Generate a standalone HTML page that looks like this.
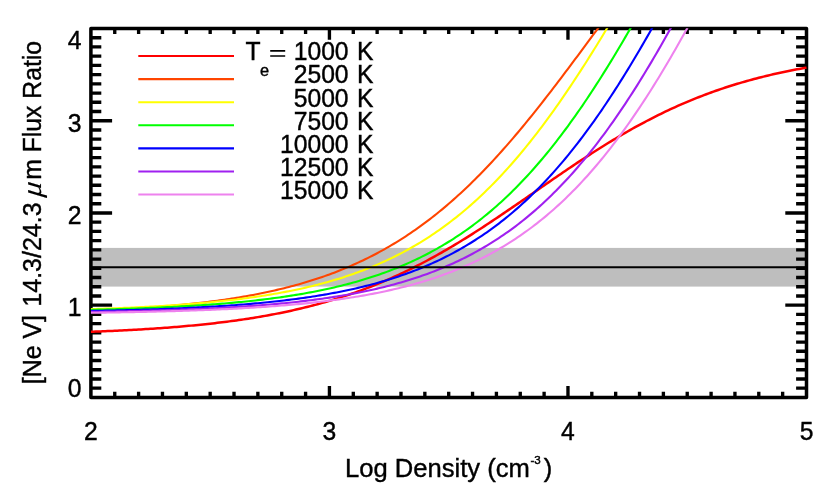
<!DOCTYPE html>
<html><head><meta charset="utf-8"><title>[Ne V] flux ratio</title>
<style>
html,body{margin:0;padding:0;background:#fff;}
body{width:830px;height:498px;overflow:hidden;font-family:"Liberation Sans",sans-serif;}
svg{display:block;will-change:transform;}
text{font-family:"Liberation Sans",sans-serif;fill:#000;stroke:#000;stroke-width:0.4px;}
</style></head><body>
<svg width="830" height="498" viewBox="0 0 830 498">
<rect x="0" y="0" width="830" height="498" fill="#fff"/>
<defs><clipPath id="c"><rect x="90.50" y="28.30" width="717.10" height="370.90"/></clipPath></defs>
<rect x="90.90" y="247.90" width="715.60" height="38.69" fill="#bebebe"/>
<rect x="90.90" y="28.50" width="715.60" height="368.90" fill="none" stroke="#000" stroke-width="3.5" stroke-linejoin="round"/>
<path d="M114.75 397.40v-5.55M114.75 28.50v5.55M138.61 397.40v-5.55M138.61 28.50v5.55M162.46 397.40v-5.55M162.46 28.50v5.55M186.31 397.40v-5.55M186.31 28.50v5.55M210.17 397.40v-5.55M210.17 28.50v5.55M234.02 397.40v-5.55M234.02 28.50v5.55M257.87 397.40v-5.55M257.87 28.50v5.55M281.73 397.40v-5.55M281.73 28.50v5.55M305.58 397.40v-5.55M305.58 28.50v5.55M329.43 397.40v-11.3M329.43 28.50v11.3M353.29 397.40v-5.55M353.29 28.50v5.55M377.14 397.40v-5.55M377.14 28.50v5.55M400.99 397.40v-5.55M400.99 28.50v5.55M424.85 397.40v-5.55M424.85 28.50v5.55M448.70 397.40v-5.55M448.70 28.50v5.55M472.55 397.40v-5.55M472.55 28.50v5.55M496.41 397.40v-5.55M496.41 28.50v5.55M520.26 397.40v-5.55M520.26 28.50v5.55M544.11 397.40v-5.55M544.11 28.50v5.55M567.97 397.40v-11.3M567.97 28.50v11.3M591.82 397.40v-5.55M591.82 28.50v5.55M615.67 397.40v-5.55M615.67 28.50v5.55M639.53 397.40v-5.55M639.53 28.50v5.55M663.38 397.40v-5.55M663.38 28.50v5.55M687.23 397.40v-5.55M687.23 28.50v5.55M711.09 397.40v-5.55M711.09 28.50v5.55M734.94 397.40v-5.55M734.94 28.50v5.55M758.79 397.40v-5.55M758.79 28.50v5.55M782.65 397.40v-5.55M782.65 28.50v5.55M90.90 388.18h10.4M806.50 388.18h-10.4M90.90 378.95h10.4M806.50 378.95h-10.4M90.90 369.73h10.4M806.50 369.73h-10.4M90.90 360.51h10.4M806.50 360.51h-10.4M90.90 351.29h10.4M806.50 351.29h-10.4M90.90 342.06h10.4M806.50 342.06h-10.4M90.90 332.84h10.4M806.50 332.84h-10.4M90.90 323.62h10.4M806.50 323.62h-10.4M90.90 314.40h10.4M806.50 314.40h-10.4M90.90 305.17h21.2M806.50 305.17h-21.2M90.90 295.95h10.4M806.50 295.95h-10.4M90.90 286.73h10.4M806.50 286.73h-10.4M90.90 277.51h10.4M806.50 277.51h-10.4M90.90 268.28h10.4M806.50 268.28h-10.4M90.90 259.06h10.4M806.50 259.06h-10.4M90.90 249.84h10.4M806.50 249.84h-10.4M90.90 240.62h10.4M806.50 240.62h-10.4M90.90 231.39h10.4M806.50 231.39h-10.4M90.90 222.17h10.4M806.50 222.17h-10.4M90.90 212.95h21.2M806.50 212.95h-21.2M90.90 203.73h10.4M806.50 203.73h-10.4M90.90 194.50h10.4M806.50 194.50h-10.4M90.90 185.28h10.4M806.50 185.28h-10.4M90.90 176.06h10.4M806.50 176.06h-10.4M90.90 166.84h10.4M806.50 166.84h-10.4M90.90 157.61h10.4M806.50 157.61h-10.4M90.90 148.39h10.4M806.50 148.39h-10.4M90.90 139.17h10.4M806.50 139.17h-10.4M90.90 129.95h10.4M806.50 129.95h-10.4M90.90 120.73h21.2M806.50 120.73h-21.2M90.90 111.50h10.4M806.50 111.50h-10.4M90.90 102.28h10.4M806.50 102.28h-10.4M90.90 93.06h10.4M806.50 93.06h-10.4M90.90 83.83h10.4M806.50 83.83h-10.4M90.90 74.61h10.4M806.50 74.61h-10.4M90.90 65.39h10.4M806.50 65.39h-10.4M90.90 56.17h10.4M806.50 56.17h-10.4M90.90 46.94h10.4M806.50 46.94h-10.4M90.90 37.72h10.4M806.50 37.72h-10.4" stroke="#000" stroke-width="3.35" fill="none"/>
<g clip-path="url(#c)" fill="none" stroke-linejoin="round">
<polyline points="90.90,331.78 93.29,331.69 95.67,331.60 98.06,331.51 100.44,331.41 102.83,331.31 105.21,331.21 107.60,331.11 109.98,331.00 112.37,330.90 114.75,330.79 117.14,330.67 119.52,330.56 121.91,330.44 124.29,330.32 126.68,330.20 129.07,330.07 131.45,329.95 133.84,329.81 136.22,329.68 138.61,329.54 140.99,329.40 143.38,329.26 145.76,329.11 148.15,328.96 150.53,328.81 152.92,328.66 155.30,328.50 157.69,328.33 160.07,328.17 162.46,327.99 164.85,327.82 167.23,327.64 169.62,327.46 172.00,327.27 174.39,327.08 176.77,326.89 179.16,326.69 181.54,326.49 183.93,326.28 186.31,326.07 188.70,325.85 191.08,325.63 193.47,325.41 195.85,325.17 198.24,324.94 200.63,324.70 203.01,324.45 205.40,324.20 207.78,323.94 210.17,323.68 212.55,323.41 214.94,323.14 217.32,322.86 219.71,322.58 222.09,322.29 224.48,321.99 226.86,321.68 229.25,321.37 231.63,321.06 234.02,320.73 236.41,320.40 238.79,320.07 241.18,319.72 243.56,319.37 245.95,319.02 248.33,318.65 250.72,318.28 253.10,317.90 255.49,317.51 257.87,317.11 260.26,316.71 262.64,316.30 265.03,315.88 267.41,315.45 269.80,315.01 272.19,314.56 274.57,314.11 276.96,313.64 279.34,313.17 281.73,312.69 284.11,312.20 286.50,311.69 288.88,311.18 291.27,310.66 293.65,310.13 296.04,309.59 298.42,309.04 300.81,308.48 303.19,307.90 305.58,307.32 307.97,306.73 310.35,306.12 312.74,305.50 315.12,304.88 317.51,304.24 319.89,303.59 322.28,302.92 324.66,302.25 327.05,301.56 329.43,300.86 331.82,300.15 334.20,299.43 336.59,298.69 338.97,297.94 341.36,297.18 343.75,296.41 346.13,295.62 348.52,294.82 350.90,294.01 353.29,293.18 355.67,292.34 358.06,291.48 360.44,290.62 362.83,289.73 365.21,288.84 367.60,287.93 369.98,287.00 372.37,286.06 374.75,285.11 377.14,284.15 379.53,283.16 381.91,282.17 384.30,281.16 386.68,280.13 389.07,279.09 391.45,278.04 393.84,276.97 396.22,275.89 398.61,274.79 400.99,273.68 403.38,272.55 405.76,271.41 408.15,270.25 410.53,269.08 412.92,267.90 415.31,266.69 417.69,265.48 420.08,264.25 422.46,263.01 424.85,261.75 427.23,260.48 429.62,259.19 432.00,257.89 434.39,256.58 436.77,255.25 439.16,253.91 441.54,252.56 443.93,251.19 446.31,249.81 448.70,248.42 451.09,247.01 453.47,245.59 455.86,244.16 458.24,242.72 460.63,241.26 463.01,239.80 465.40,238.32 467.78,236.83 470.17,235.33 472.55,233.82 474.94,232.31 477.32,230.78 479.71,229.24 482.09,227.69 484.48,226.13 486.87,224.57 489.25,222.99 491.64,221.41 494.02,219.82 496.41,218.22 498.79,216.62 501.18,215.01 503.56,213.40 505.95,211.78 508.33,210.15 510.72,208.52 513.10,206.88 515.49,205.24 517.87,203.60 520.26,201.96 522.65,200.31 525.03,198.66 527.42,197.00 529.80,195.35 532.19,193.70 534.57,192.04 536.96,190.39 539.34,188.73 541.73,187.08 544.11,185.42 546.50,183.77 548.88,182.13 551.27,180.48 553.65,178.84 556.04,177.20 558.43,175.56 560.81,173.93 563.20,172.30 565.58,170.68 567.97,169.06 570.35,167.45 572.74,165.85 575.12,164.25 577.51,162.66 579.89,161.08 582.28,159.50 584.66,157.94 587.05,156.38 589.43,154.83 591.82,153.29 594.21,151.76 596.59,150.24 598.98,148.73 601.36,147.23 603.75,145.74 606.13,144.26 608.52,142.79 610.90,141.33 613.29,139.89 615.67,138.46 618.06,137.04 620.44,135.63 622.83,134.23 625.21,132.85 627.60,131.48 629.99,130.13 632.37,128.78 634.76,127.46 637.14,126.14 639.53,124.84 641.91,123.55 644.30,122.28 646.68,121.02 649.07,119.77 651.45,118.54 653.84,117.32 656.22,116.12 658.61,114.93 660.99,113.76 663.38,112.60 665.77,111.46 668.15,110.33 670.54,109.21 672.92,108.11 675.31,107.03 677.69,105.96 680.08,104.90 682.46,103.86 684.85,102.83 687.23,101.82 689.62,100.82 692.00,99.84 694.39,98.87 696.77,97.92 699.16,96.98 701.55,96.05 703.93,95.14 706.32,94.24 708.70,93.36 711.09,92.49 713.47,91.63 715.86,90.79 718.24,89.96 720.63,89.14 723.01,88.34 725.40,87.55 727.78,86.77 730.17,86.01 732.55,85.26 734.94,84.52 737.33,83.80 739.71,83.08 742.10,82.38 744.48,81.70 746.87,81.02 749.25,80.36 751.64,79.70 754.02,79.06 756.41,78.43 758.79,77.81 761.18,77.21 763.56,76.61 765.95,76.03 768.33,75.45 770.72,74.89 773.11,74.34 775.49,73.79 777.88,73.26 780.26,72.74 782.65,72.23 785.03,71.72 787.42,71.23 789.80,70.75 792.19,70.27 794.57,69.81 796.96,69.35 799.34,68.90 801.73,68.46 804.11,68.03 806.50,67.61" stroke="#ff0000" stroke-width="2.5"/>
<polyline points="90.90,310.83 93.29,310.73 95.67,310.63 98.06,310.52 100.44,310.41 102.83,310.30 105.21,310.19 107.60,310.07 109.98,309.96 112.37,309.83 114.75,309.71 117.14,309.58 119.52,309.46 121.91,309.32 124.29,309.19 126.68,309.05 129.07,308.91 131.45,308.76 133.84,308.62 136.22,308.46 138.61,308.31 140.99,308.15 143.38,307.99 145.76,307.82 148.15,307.65 150.53,307.48 152.92,307.30 155.30,307.12 157.69,306.94 160.07,306.75 162.46,306.55 164.85,306.36 167.23,306.15 169.62,305.95 172.00,305.74 174.39,305.52 176.77,305.30 179.16,305.07 181.54,304.84 183.93,304.60 186.31,304.36 188.70,304.11 191.08,303.86 193.47,303.60 195.85,303.34 198.24,303.07 200.63,302.79 203.01,302.51 205.40,302.22 207.78,301.93 210.17,301.62 212.55,301.32 214.94,301.00 217.32,300.68 219.71,300.35 222.09,300.01 224.48,299.67 226.86,299.32 229.25,298.96 231.63,298.59 234.02,298.22 236.41,297.84 238.79,297.44 241.18,297.04 243.56,296.64 245.95,296.22 248.33,295.79 250.72,295.35 253.10,294.91 255.49,294.45 257.87,293.99 260.26,293.51 262.64,293.03 265.03,292.53 267.41,292.03 269.80,291.51 272.19,290.98 274.57,290.45 276.96,289.89 279.34,289.33 281.73,288.76 284.11,288.17 286.50,287.57 288.88,286.96 291.27,286.34 293.65,285.70 296.04,285.05 298.42,284.39 300.81,283.71 303.19,283.02 305.58,282.32 307.97,281.60 310.35,280.86 312.74,280.11 315.12,279.35 317.51,278.57 319.89,277.77 322.28,276.96 324.66,276.13 327.05,275.28 329.43,274.42 331.82,273.54 334.20,272.65 336.59,271.73 338.97,270.80 341.36,269.85 343.75,268.88 346.13,267.89 348.52,266.89 350.90,265.86 353.29,264.81 355.67,263.75 358.06,262.66 360.44,261.56 362.83,260.43 365.21,259.28 367.60,258.11 369.98,256.92 372.37,255.71 374.75,254.47 377.14,253.21 379.53,251.93 381.91,250.63 384.30,249.30 386.68,247.95 389.07,246.58 391.45,245.18 393.84,243.76 396.22,242.31 398.61,240.84 400.99,239.34 403.38,237.81 405.76,236.27 408.15,234.69 410.53,233.09 412.92,231.46 415.31,229.81 417.69,228.13 420.08,226.42 422.46,224.69 424.85,222.93 427.23,221.14 429.62,219.33 432.00,217.48 434.39,215.61 436.77,213.71 439.16,211.78 441.54,209.83 443.93,207.84 446.31,205.83 448.70,203.79 451.09,201.72 453.47,199.62 455.86,197.50 458.24,195.34 460.63,193.16 463.01,190.94 465.40,188.70 467.78,186.43 470.17,184.14 472.55,181.81 474.94,179.46 477.32,177.07 479.71,174.66 482.09,172.22 484.48,169.76 486.87,167.26 489.25,164.74 491.64,162.20 494.02,159.62 496.41,157.02 498.79,154.39 501.18,151.74 503.56,149.06 505.95,146.36 508.33,143.63 510.72,140.88 513.10,138.10 515.49,135.30 517.87,132.47 520.26,129.63 522.65,126.76 525.03,123.87 527.42,120.95 529.80,118.02 532.19,115.07 534.57,112.10 536.96,109.11 539.34,106.10 541.73,103.07 544.11,100.02 546.50,96.96 548.88,93.89 551.27,90.80 553.65,87.69 556.04,84.57 558.43,81.44 560.81,78.30 563.20,75.14 565.58,71.98 567.97,68.81 570.35,65.62 572.74,62.43 575.12,59.23 577.51,56.03 579.89,52.82 582.28,49.60 584.66,46.38 587.05,43.16 589.43,39.94 591.82,36.71 594.21,33.48 596.59,30.26 598.98,27.03 601.36,23.81 603.75,20.59 606.13,17.38 608.52,14.16" stroke="#ff4500" stroke-width="2.1"/>
<polyline points="90.90,309.12 93.29,309.04 95.67,308.97 98.06,308.89 100.44,308.81 102.83,308.73 105.21,308.65 107.60,308.56 109.98,308.47 112.37,308.38 114.75,308.29 117.14,308.20 119.52,308.10 121.91,308.01 124.29,307.91 126.68,307.80 129.07,307.70 131.45,307.59 133.84,307.48 136.22,307.37 138.61,307.26 140.99,307.14 143.38,307.02 145.76,306.90 148.15,306.77 150.53,306.64 152.92,306.51 155.30,306.38 157.69,306.24 160.07,306.10 162.46,305.95 164.85,305.81 167.23,305.66 169.62,305.50 172.00,305.35 174.39,305.18 176.77,305.02 179.16,304.85 181.54,304.68 183.93,304.50 186.31,304.32 188.70,304.14 191.08,303.95 193.47,303.76 195.85,303.56 198.24,303.36 200.63,303.15 203.01,302.94 205.40,302.73 207.78,302.50 210.17,302.28 212.55,302.05 214.94,301.81 217.32,301.57 219.71,301.32 222.09,301.07 224.48,300.81 226.86,300.55 229.25,300.28 231.63,300.01 234.02,299.72 236.41,299.43 238.79,299.14 241.18,298.84 243.56,298.53 245.95,298.22 248.33,297.89 250.72,297.56 253.10,297.23 255.49,296.88 257.87,296.53 260.26,296.17 262.64,295.80 265.03,295.43 267.41,295.04 269.80,294.65 272.19,294.25 274.57,293.84 276.96,293.42 279.34,292.99 281.73,292.55 284.11,292.11 286.50,291.65 288.88,291.18 291.27,290.70 293.65,290.22 296.04,289.72 298.42,289.21 300.81,288.69 303.19,288.16 305.58,287.61 307.97,287.06 310.35,286.49 312.74,285.91 315.12,285.32 317.51,284.71 319.89,284.09 322.28,283.46 324.66,282.82 327.05,282.16 329.43,281.49 331.82,280.80 334.20,280.10 336.59,279.38 338.97,278.65 341.36,277.91 343.75,277.14 346.13,276.36 348.52,275.57 350.90,274.76 353.29,273.93 355.67,273.08 358.06,272.22 360.44,271.34 362.83,270.44 365.21,269.52 367.60,268.59 369.98,267.63 372.37,266.66 374.75,265.66 377.14,264.65 379.53,263.61 381.91,262.56 384.30,261.48 386.68,260.38 389.07,259.26 391.45,258.12 393.84,256.95 396.22,255.76 398.61,254.55 400.99,253.32 403.38,252.06 405.76,250.78 408.15,249.47 410.53,248.13 412.92,246.77 415.31,245.39 417.69,243.98 420.08,242.54 422.46,241.08 424.85,239.59 427.23,238.07 429.62,236.52 432.00,234.95 434.39,233.34 436.77,231.71 439.16,230.05 441.54,228.35 443.93,226.63 446.31,224.88 448.70,223.09 451.09,221.28 453.47,219.43 455.86,217.55 458.24,215.64 460.63,213.70 463.01,211.73 465.40,209.72 467.78,207.68 470.17,205.60 472.55,203.49 474.94,201.35 477.32,199.17 479.71,196.96 482.09,194.71 484.48,192.43 486.87,190.11 489.25,187.76 491.64,185.37 494.02,182.95 496.41,180.49 498.79,177.99 501.18,175.46 503.56,172.89 505.95,170.28 508.33,167.64 510.72,164.96 513.10,162.25 515.49,159.50 517.87,156.71 520.26,153.88 522.65,151.02 525.03,148.12 527.42,145.19 529.80,142.22 532.19,139.21 534.57,136.17 536.96,133.09 539.34,129.97 541.73,126.82 544.11,123.64 546.50,120.42 548.88,117.16 551.27,113.87 553.65,110.55 556.04,107.19 558.43,103.80 560.81,100.38 563.20,96.92 565.58,93.44 567.97,89.92 570.35,86.37 572.74,82.79 575.12,79.18 577.51,75.54 579.89,71.87 582.28,68.17 584.66,64.45 587.05,60.70 589.43,56.92 591.82,53.12 594.21,49.30 596.59,45.45 598.98,41.57 601.36,37.68 603.75,33.77 606.13,29.83 608.52,25.87 610.90,21.90 613.29,17.91 615.67,13.90" stroke="#ffff00" stroke-width="2.1"/>
<polyline points="90.90,309.81 93.29,309.75 95.67,309.69 98.06,309.63 100.44,309.57 102.83,309.51 105.21,309.45 107.60,309.38 109.98,309.32 112.37,309.25 114.75,309.18 117.14,309.11 119.52,309.03 121.91,308.96 124.29,308.88 126.68,308.81 129.07,308.73 131.45,308.64 133.84,308.56 136.22,308.47 138.61,308.39 140.99,308.30 143.38,308.21 145.76,308.11 148.15,308.02 150.53,307.92 152.92,307.82 155.30,307.71 157.69,307.61 160.07,307.50 162.46,307.39 164.85,307.28 167.23,307.16 169.62,307.05 172.00,306.93 174.39,306.80 176.77,306.68 179.16,306.55 181.54,306.42 183.93,306.28 186.31,306.14 188.70,306.00 191.08,305.86 193.47,305.71 195.85,305.56 198.24,305.40 200.63,305.25 203.01,305.08 205.40,304.92 207.78,304.75 210.17,304.58 212.55,304.40 214.94,304.22 217.32,304.03 219.71,303.84 222.09,303.65 224.48,303.45 226.86,303.25 229.25,303.04 231.63,302.83 234.02,302.61 236.41,302.39 238.79,302.17 241.18,301.93 243.56,301.70 245.95,301.45 248.33,301.21 250.72,300.95 253.10,300.69 255.49,300.43 257.87,300.16 260.26,299.88 262.64,299.60 265.03,299.31 267.41,299.01 269.80,298.71 272.19,298.40 274.57,298.08 276.96,297.76 279.34,297.42 281.73,297.09 284.11,296.74 286.50,296.39 288.88,296.02 291.27,295.65 293.65,295.28 296.04,294.89 298.42,294.49 300.81,294.09 303.19,293.68 305.58,293.25 307.97,292.82 310.35,292.38 312.74,291.93 315.12,291.47 317.51,291.00 319.89,290.52 322.28,290.03 324.66,289.52 327.05,289.01 329.43,288.49 331.82,287.95 334.20,287.40 336.59,286.84 338.97,286.27 341.36,285.69 343.75,285.09 346.13,284.48 348.52,283.86 350.90,283.22 353.29,282.57 355.67,281.90 358.06,281.23 360.44,280.53 362.83,279.82 365.21,279.10 367.60,278.36 369.98,277.61 372.37,276.84 374.75,276.05 377.14,275.25 379.53,274.43 381.91,273.59 384.30,272.74 386.68,271.87 389.07,270.97 391.45,270.07 393.84,269.14 396.22,268.19 398.61,267.22 400.99,266.24 403.38,265.23 405.76,264.20 408.15,263.16 410.53,262.09 412.92,260.99 415.31,259.88 417.69,258.75 420.08,257.59 422.46,256.41 424.85,255.20 427.23,253.97 429.62,252.72 432.00,251.44 434.39,250.14 436.77,248.81 439.16,247.45 441.54,246.07 443.93,244.67 446.31,243.23 448.70,241.77 451.09,240.28 453.47,238.77 455.86,237.22 458.24,235.64 460.63,234.04 463.01,232.41 465.40,230.74 467.78,229.05 470.17,227.32 472.55,225.56 474.94,223.78 477.32,221.96 479.71,220.10 482.09,218.22 484.48,216.30 486.87,214.34 489.25,212.36 491.64,210.34 494.02,208.28 496.41,206.19 498.79,204.07 501.18,201.91 503.56,199.71 505.95,197.48 508.33,195.21 510.72,192.90 513.10,190.56 515.49,188.18 517.87,185.76 520.26,183.30 522.65,180.81 525.03,178.28 527.42,175.71 529.80,173.10 532.19,170.45 534.57,167.76 536.96,165.03 539.34,162.27 541.73,159.47 544.11,156.62 546.50,153.74 548.88,150.82 551.27,147.85 553.65,144.85 556.04,141.81 558.43,138.73 560.81,135.61 563.20,132.45 565.58,129.25 567.97,126.01 570.35,122.74 572.74,119.42 575.12,116.07 577.51,112.67 579.89,109.24 582.28,105.78 584.66,102.27 587.05,98.73 589.43,95.15 591.82,91.53 594.21,87.88 596.59,84.19 598.98,80.47 601.36,76.71 603.75,72.92 606.13,69.09 608.52,65.24 610.90,61.35 613.29,57.43 615.67,53.47 618.06,49.49 620.44,45.48 622.83,41.44 625.21,37.37 627.60,33.27 629.99,29.15 632.37,25.00 634.76,20.82 637.14,16.62 639.53,12.40" stroke="#00ff00" stroke-width="2.1"/>
<polyline points="90.90,310.95 93.29,310.91 95.67,310.86 98.06,310.81 100.44,310.76 102.83,310.71 105.21,310.66 107.60,310.61 109.98,310.56 112.37,310.50 114.75,310.45 117.14,310.39 119.52,310.33 121.91,310.27 124.29,310.21 126.68,310.15 129.07,310.08 131.45,310.02 133.84,309.95 136.22,309.88 138.61,309.81 140.99,309.74 143.38,309.67 145.76,309.59 148.15,309.52 150.53,309.44 152.92,309.36 155.30,309.27 157.69,309.19 160.07,309.10 162.46,309.01 164.85,308.92 167.23,308.83 169.62,308.74 172.00,308.64 174.39,308.54 176.77,308.44 179.16,308.34 181.54,308.23 183.93,308.12 186.31,308.01 188.70,307.90 191.08,307.78 193.47,307.67 195.85,307.54 198.24,307.42 200.63,307.29 203.01,307.16 205.40,307.03 207.78,306.89 210.17,306.75 212.55,306.61 214.94,306.47 217.32,306.32 219.71,306.17 222.09,306.01 224.48,305.85 226.86,305.69 229.25,305.52 231.63,305.35 234.02,305.18 236.41,305.00 238.79,304.82 241.18,304.63 243.56,304.44 245.95,304.24 248.33,304.04 250.72,303.84 253.10,303.63 255.49,303.42 257.87,303.20 260.26,302.98 262.64,302.75 265.03,302.51 267.41,302.27 269.80,302.03 272.19,301.78 274.57,301.52 276.96,301.26 279.34,301.00 281.73,300.72 284.11,300.44 286.50,300.16 288.88,299.87 291.27,299.57 293.65,299.26 296.04,298.95 298.42,298.63 300.81,298.30 303.19,297.97 305.58,297.63 307.97,297.28 310.35,296.92 312.74,296.56 315.12,296.18 317.51,295.80 319.89,295.41 322.28,295.02 324.66,294.61 327.05,294.19 329.43,293.77 331.82,293.33 334.20,292.89 336.59,292.43 338.97,291.97 341.36,291.49 343.75,291.01 346.13,290.51 348.52,290.00 350.90,289.49 353.29,288.96 355.67,288.42 358.06,287.86 360.44,287.30 362.83,286.72 365.21,286.13 367.60,285.53 369.98,284.91 372.37,284.29 374.75,283.64 377.14,282.99 379.53,282.32 381.91,281.63 384.30,280.93 386.68,280.22 389.07,279.49 391.45,278.74 393.84,277.98 396.22,277.20 398.61,276.41 400.99,275.60 403.38,274.77 405.76,273.93 408.15,273.06 410.53,272.18 412.92,271.28 415.31,270.37 417.69,269.43 420.08,268.47 422.46,267.50 424.85,266.50 427.23,265.48 429.62,264.44 432.00,263.39 434.39,262.30 436.77,261.20 439.16,260.08 441.54,258.93 443.93,257.76 446.31,256.56 448.70,255.35 451.09,254.10 453.47,252.84 455.86,251.54 458.24,250.23 460.63,248.88 463.01,247.51 465.40,246.12 467.78,244.69 470.17,243.24 472.55,241.76 474.94,240.26 477.32,238.72 479.71,237.16 482.09,235.56 484.48,233.94 486.87,232.28 489.25,230.60 491.64,228.88 494.02,227.13 496.41,225.35 498.79,223.54 501.18,221.70 503.56,219.82 505.95,217.91 508.33,215.96 510.72,213.98 513.10,211.97 515.49,209.92 517.87,207.84 520.26,205.72 522.65,203.56 525.03,201.37 527.42,199.14 529.80,196.87 532.19,194.57 534.57,192.23 536.96,189.85 539.34,187.43 541.73,184.97 544.11,182.48 546.50,179.94 548.88,177.37 551.27,174.76 553.65,172.10 556.04,169.41 558.43,166.68 560.81,163.90 563.20,161.09 565.58,158.24 567.97,155.34 570.35,152.41 572.74,149.43 575.12,146.41 577.51,143.36 579.89,140.26 582.28,137.12 584.66,133.94 587.05,130.72 589.43,127.45 591.82,124.15 594.21,120.81 596.59,117.42 598.98,114.00 601.36,110.54 603.75,107.03 606.13,103.49 608.52,99.91 610.90,96.29 613.29,92.63 615.67,88.93 618.06,85.20 620.44,81.43 622.83,77.62 625.21,73.77 627.60,69.89 629.99,65.97 632.37,62.02 634.76,58.03 637.14,54.01 639.53,49.96 641.91,45.88 644.30,41.76 646.68,37.61 649.07,33.44 651.45,29.23 653.84,25.00 656.22,20.74 658.61,16.45 660.99,12.13" stroke="#0000ff" stroke-width="2.1"/>
<polyline points="90.90,311.89 93.29,311.85 95.67,311.81 98.06,311.77 100.44,311.73 102.83,311.69 105.21,311.65 107.60,311.61 109.98,311.56 112.37,311.52 114.75,311.47 117.14,311.42 119.52,311.37 121.91,311.32 124.29,311.27 126.68,311.22 129.07,311.17 131.45,311.12 133.84,311.06 136.22,311.00 138.61,310.95 140.99,310.89 143.38,310.82 145.76,310.76 148.15,310.70 150.53,310.63 152.92,310.57 155.30,310.50 157.69,310.43 160.07,310.36 162.46,310.29 164.85,310.21 167.23,310.13 169.62,310.06 172.00,309.98 174.39,309.89 176.77,309.81 179.16,309.73 181.54,309.64 183.93,309.55 186.31,309.46 188.70,309.36 191.08,309.27 193.47,309.17 195.85,309.07 198.24,308.97 200.63,308.86 203.01,308.75 205.40,308.64 207.78,308.53 210.17,308.42 212.55,308.30 214.94,308.18 217.32,308.05 219.71,307.93 222.09,307.80 224.48,307.67 226.86,307.53 229.25,307.39 231.63,307.25 234.02,307.11 236.41,306.96 238.79,306.81 241.18,306.65 243.56,306.50 245.95,306.33 248.33,306.17 250.72,306.00 253.10,305.83 255.49,305.65 257.87,305.47 260.26,305.28 262.64,305.09 265.03,304.90 267.41,304.70 269.80,304.50 272.19,304.29 274.57,304.08 276.96,303.86 279.34,303.64 281.73,303.41 284.11,303.18 286.50,302.94 288.88,302.70 291.27,302.45 293.65,302.20 296.04,301.94 298.42,301.67 300.81,301.40 303.19,301.13 305.58,300.84 307.97,300.55 310.35,300.25 312.74,299.95 315.12,299.64 317.51,299.32 319.89,299.00 322.28,298.67 324.66,298.33 327.05,297.98 329.43,297.63 331.82,297.26 334.20,296.89 336.59,296.51 338.97,296.13 341.36,295.73 343.75,295.33 346.13,294.91 348.52,294.49 350.90,294.06 353.29,293.61 355.67,293.16 358.06,292.70 360.44,292.23 362.83,291.75 365.21,291.25 367.60,290.75 369.98,290.23 372.37,289.71 374.75,289.17 377.14,288.62 379.53,288.06 381.91,287.48 384.30,286.90 386.68,286.30 389.07,285.69 391.45,285.06 393.84,284.42 396.22,283.77 398.61,283.10 400.99,282.42 403.38,281.72 405.76,281.01 408.15,280.29 410.53,279.55 412.92,278.79 415.31,278.01 417.69,277.22 420.08,276.42 422.46,275.59 424.85,274.75 427.23,273.89 429.62,273.02 432.00,272.12 434.39,271.21 436.77,270.27 439.16,269.32 441.54,268.35 443.93,267.35 446.31,266.34 448.70,265.31 451.09,264.25 453.47,263.17 455.86,262.07 458.24,260.95 460.63,259.81 463.01,258.64 465.40,257.45 467.78,256.23 470.17,255.00 472.55,253.73 474.94,252.44 477.32,251.13 479.71,249.79 482.09,248.42 484.48,247.03 486.87,245.61 489.25,244.16 491.64,242.68 494.02,241.18 496.41,239.64 498.79,238.08 501.18,236.49 503.56,234.87 505.95,233.21 508.33,231.53 510.72,229.81 513.10,228.07 515.49,226.29 517.87,224.48 520.26,222.63 522.65,220.75 525.03,218.84 527.42,216.89 529.80,214.91 532.19,212.90 534.57,210.85 536.96,208.76 539.34,206.64 541.73,204.48 544.11,202.28 546.50,200.05 548.88,197.77 551.27,195.47 553.65,193.12 556.04,190.73 558.43,188.31 560.81,185.84 563.20,183.34 565.58,180.80 567.97,178.21 570.35,175.59 572.74,172.93 575.12,170.22 577.51,167.48 579.89,164.69 582.28,161.86 584.66,158.99 587.05,156.08 589.43,153.13 591.82,150.13 594.21,147.10 596.59,144.02 598.98,140.90 601.36,137.74 603.75,134.53 606.13,131.29 608.52,128.00 610.90,124.67 613.29,121.30 615.67,117.88 618.06,114.43 620.44,110.93 622.83,107.39 625.21,103.82 627.60,100.20 629.99,96.54 632.37,92.84 634.76,89.10 637.14,85.32 639.53,81.50 641.91,77.65 644.30,73.75 646.68,69.82 649.07,65.85 651.45,61.85 653.84,57.80 656.22,53.73 658.61,49.62 660.99,45.47 663.38,41.29 665.77,37.08 668.15,32.83 670.54,28.56 672.92,24.25 675.31,19.92 677.69,15.55 680.08,11.16" stroke="#a020f0" stroke-width="2.1"/>
<polyline points="90.90,312.78 93.29,312.75 95.67,312.72 98.06,312.68 100.44,312.65 102.83,312.62 105.21,312.58 107.60,312.54 109.98,312.51 112.37,312.47 114.75,312.43 117.14,312.39 119.52,312.35 121.91,312.30 124.29,312.26 126.68,312.22 129.07,312.17 131.45,312.13 133.84,312.08 136.22,312.03 138.61,311.98 140.99,311.93 143.38,311.88 145.76,311.83 148.15,311.77 150.53,311.72 152.92,311.66 155.30,311.60 157.69,311.54 160.07,311.48 162.46,311.42 164.85,311.36 167.23,311.29 169.62,311.23 172.00,311.16 174.39,311.09 176.77,311.02 179.16,310.94 181.54,310.87 183.93,310.79 186.31,310.72 188.70,310.64 191.08,310.55 193.47,310.47 195.85,310.39 198.24,310.30 200.63,310.21 203.01,310.12 205.40,310.02 207.78,309.93 210.17,309.83 212.55,309.73 214.94,309.63 217.32,309.52 219.71,309.42 222.09,309.31 224.48,309.19 226.86,309.08 229.25,308.96 231.63,308.84 234.02,308.72 236.41,308.59 238.79,308.46 241.18,308.33 243.56,308.20 245.95,308.06 248.33,307.92 250.72,307.77 253.10,307.63 255.49,307.48 257.87,307.32 260.26,307.16 262.64,307.00 265.03,306.84 267.41,306.67 269.80,306.50 272.19,306.32 274.57,306.14 276.96,305.95 279.34,305.76 281.73,305.57 284.11,305.37 286.50,305.17 288.88,304.96 291.27,304.75 293.65,304.54 296.04,304.31 298.42,304.09 300.81,303.86 303.19,303.62 305.58,303.38 307.97,303.13 310.35,302.88 312.74,302.62 315.12,302.35 317.51,302.08 319.89,301.80 322.28,301.52 324.66,301.23 327.05,300.93 329.43,300.63 331.82,300.32 334.20,300.00 336.59,299.68 338.97,299.35 341.36,299.01 343.75,298.66 346.13,298.31 348.52,297.95 350.90,297.58 353.29,297.20 355.67,296.81 358.06,296.42 360.44,296.01 362.83,295.60 365.21,295.18 367.60,294.75 369.98,294.31 372.37,293.85 374.75,293.39 377.14,292.92 379.53,292.44 381.91,291.95 384.30,291.44 386.68,290.93 389.07,290.40 391.45,289.87 393.84,289.32 396.22,288.76 398.61,288.18 400.99,287.60 403.38,287.00 405.76,286.39 408.15,285.76 410.53,285.13 412.92,284.47 415.31,283.81 417.69,283.13 420.08,282.43 422.46,281.72 424.85,281.00 427.23,280.25 429.62,279.50 432.00,278.72 434.39,277.93 436.77,277.13 439.16,276.30 441.54,275.46 443.93,274.61 446.31,273.73 448.70,272.83 451.09,271.92 453.47,270.99 455.86,270.03 458.24,269.06 460.63,268.07 463.01,267.06 465.40,266.02 467.78,264.97 470.17,263.89 472.55,262.79 474.94,261.67 477.32,260.53 479.71,259.36 482.09,258.17 484.48,256.95 486.87,255.71 489.25,254.45 491.64,253.16 494.02,251.85 496.41,250.51 498.79,249.14 501.18,247.74 503.56,246.32 505.95,244.87 508.33,243.40 510.72,241.89 513.10,240.36 515.49,238.79 517.87,237.20 520.26,235.57 522.65,233.92 525.03,232.23 527.42,230.52 529.80,228.77 532.19,226.98 534.57,225.17 536.96,223.32 539.34,221.44 541.73,219.53 544.11,217.58 546.50,215.59 548.88,213.57 551.27,211.52 553.65,209.43 556.04,207.30 558.43,205.13 560.81,202.93 563.20,200.69 565.58,198.42 567.97,196.10 570.35,193.75 572.74,191.36 575.12,188.92 577.51,186.45 579.89,183.94 582.28,181.39 584.66,178.80 587.05,176.17 589.43,173.49 591.82,170.78 594.21,168.02 596.59,165.22 598.98,162.38 601.36,159.50 603.75,156.58 606.13,153.61 608.52,150.61 610.90,147.56 613.29,144.46 615.67,141.33 618.06,138.15 620.44,134.93 622.83,131.66 625.21,128.36 627.60,125.01 629.99,121.62 632.37,118.19 634.76,114.71 637.14,111.19 639.53,107.63 641.91,104.03 644.30,100.39 646.68,96.70 649.07,92.98 651.45,89.21 653.84,85.41 656.22,81.56 658.61,77.68 660.99,73.75 663.38,69.79 665.77,65.79 668.15,61.75 670.54,57.67 672.92,53.56 675.31,49.41 677.69,45.23 680.08,41.01 682.46,36.76 684.85,32.48 687.23,28.16 689.62,23.81 692.00,19.43 694.39,15.02 696.77,10.59" stroke="#ee82ee" stroke-width="2.1"/>
</g>
<line x1="90.90" y1="267.18" x2="806.50" y2="267.18" stroke="#000" stroke-width="1.9"/>
<line x1="138.3" y1="56.05" x2="234.0" y2="56.05" stroke="#ff0000" stroke-width="2.1"/>
<text transform="translate(348.60,60.40) scale(1,1.012)" font-size="24.7" text-anchor="end">1000</text>
<text transform="translate(356.90,60.40) scale(1,1.038)" font-size="24.7" text-anchor="start">K</text>
<line x1="138.3" y1="79.13" x2="234.0" y2="79.13" stroke="#ff4500" stroke-width="2.1"/>
<text transform="translate(348.60,83.48) scale(1,1.012)" font-size="24.7" text-anchor="end">2500</text>
<text transform="translate(356.90,83.48) scale(1,1.038)" font-size="24.7" text-anchor="start">K</text>
<line x1="138.3" y1="102.21" x2="234.0" y2="102.21" stroke="#ffff00" stroke-width="2.1"/>
<text transform="translate(348.60,106.56) scale(1,1.012)" font-size="24.7" text-anchor="end">5000</text>
<text transform="translate(356.90,106.56) scale(1,1.038)" font-size="24.7" text-anchor="start">K</text>
<line x1="138.3" y1="125.29" x2="234.0" y2="125.29" stroke="#00ff00" stroke-width="2.1"/>
<text transform="translate(348.60,129.64) scale(1,1.012)" font-size="24.7" text-anchor="end">7500</text>
<text transform="translate(356.90,129.64) scale(1,1.038)" font-size="24.7" text-anchor="start">K</text>
<line x1="138.3" y1="148.37" x2="234.0" y2="148.37" stroke="#0000ff" stroke-width="2.1"/>
<text transform="translate(348.60,152.72) scale(1,1.012)" font-size="24.7" text-anchor="end">10000</text>
<text transform="translate(356.90,152.72) scale(1,1.038)" font-size="24.7" text-anchor="start">K</text>
<line x1="138.3" y1="171.45" x2="234.0" y2="171.45" stroke="#a020f0" stroke-width="2.1"/>
<text transform="translate(348.60,175.80) scale(1,1.012)" font-size="24.7" text-anchor="end">12500</text>
<text transform="translate(356.90,175.80) scale(1,1.038)" font-size="24.7" text-anchor="start">K</text>
<line x1="138.3" y1="194.53" x2="234.0" y2="194.53" stroke="#ee82ee" stroke-width="2.1"/>
<text transform="translate(348.60,198.88) scale(1,1.012)" font-size="24.7" text-anchor="end">15000</text>
<text transform="translate(356.90,198.88) scale(1,1.038)" font-size="24.7" text-anchor="start">K</text>
<text transform="translate(245.60,60.45) scale(1,1.038)" font-size="24.7" text-anchor="start">T</text>
<text transform="translate(260.00,76.00) scale(1,1.0)" font-size="16.4" text-anchor="start">e</text>
<path d="M270.2 50.9h15M270.2 56.0h15" stroke="#000" stroke-width="1.65" fill="none"/>
<text transform="translate(90.90,440.20) scale(1,1.012)" font-size="24.7" text-anchor="middle">2</text>
<text transform="translate(329.43,440.20) scale(1,1.012)" font-size="24.7" text-anchor="middle">3</text>
<text transform="translate(567.97,440.20) scale(1,1.012)" font-size="24.7" text-anchor="middle">4</text>
<text transform="translate(806.50,440.20) scale(1,1.012)" font-size="24.7" text-anchor="middle">5</text>
<text transform="translate(81.50,397.40) scale(1,1.012)" font-size="24.7" text-anchor="end">0</text>
<text transform="translate(81.50,316.22) scale(1,1.012)" font-size="24.7" text-anchor="end">1</text>
<text transform="translate(81.50,224.00) scale(1,1.012)" font-size="24.7" text-anchor="end">2</text>
<text transform="translate(81.50,131.78) scale(1,1.012)" font-size="24.7" text-anchor="end">3</text>
<text transform="translate(81.50,48.50) scale(1,1.012)" font-size="24.7" text-anchor="end">4</text>
<text x="345.0" y="477.4" font-size="25.58">Log Density (cm<tspan font-size="11.6" dx="0.7" dy="-13.9">-3</tspan><tspan dx="2.9" dy="13.9">)</tspan></text>
<text transform="translate(41.0,384.30) rotate(-90) scale(1,1.055)" font-size="24.95">[Ne V]</text>
<text transform="translate(41.0,306.70) rotate(-90) scale(1,1.055)" font-size="25.03">14.3/24.3</text>
<text transform="translate(41.0,197.3) rotate(-90) skewX(-6) scale(1.05,1)" font-size="28" font-style="italic" style="font-family:'Liberation Serif',serif;stroke-width:0.1px">μ</text>
<text transform="translate(41.0,179.80) rotate(-90) scale(1,1.055)" font-size="24.75">m Flux Ratio</text>
</svg>
</body></html>
